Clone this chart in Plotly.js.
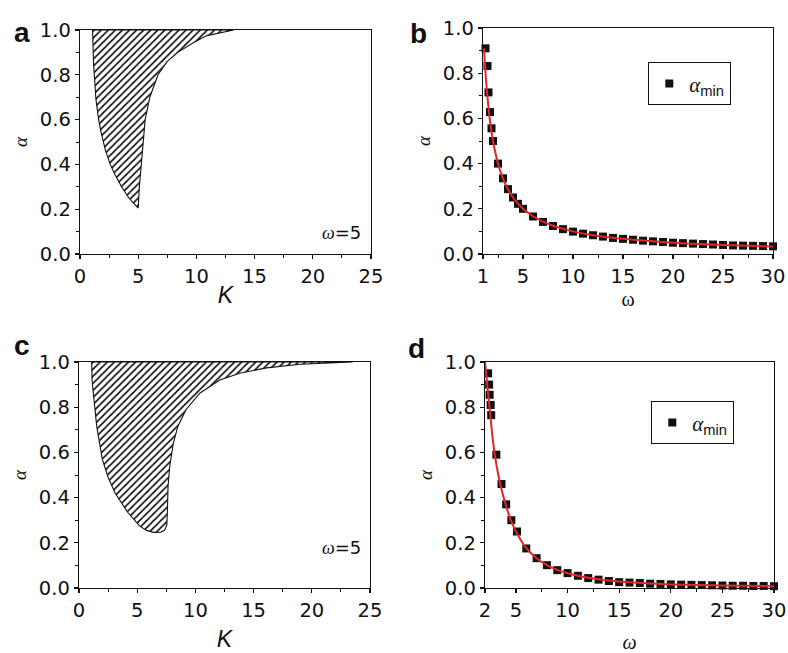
<!DOCTYPE html>
<html><head><meta charset="utf-8">
<script src="https://cdn.plot.ly/plotly-3.0.1.min.js"></script>
<style>html,body{margin:0;padding:0;background:#fff}#chart{width:788px;height:653px}</style>
</head><body><div id="chart"></div>
<script>
// ---------- DATA ----------
// Panel a: boundary of hatched region (K, alpha), omega = 5
const regionA_K     = [1.08, 1.10, 1.17, 1.23, 1.37, 1.60, 1.80, 2.20, 2.60, 3.00, 3.57, 4.20, 5.00, 5.10, 5.25, 5.40, 5.60, 6.00, 6.70, 7.50, 8.40, 9.80, 10.9, 12.9, 13.2, 1.08];
const regionA_alpha = [1.00, 0.92, 0.84, 0.80, 0.69, 0.60, 0.545, 0.46, 0.40, 0.355, 0.30, 0.25, 0.205, 0.30, 0.40, 0.50, 0.60, 0.70, 0.80, 0.86, 0.90, 0.945, 0.975, 0.997, 1.00, 1.00];

// Panel c: boundary of hatched region (K, alpha), omega = 5
const regionC_K     = [1.09, 1.12, 1.23, 1.52, 2.00, 2.50, 3.10, 4.20, 5.20, 5.80, 6.40, 7.00, 7.35, 7.55, 7.60, 7.65, 7.80, 8.10, 8.50, 9.20, 10.4, 12.1, 13.8, 16.1, 19.0, 22.1, 23.5, 1.09];
const regionC_alpha = [1.00, 0.92, 0.863, 0.716, 0.57, 0.49, 0.42, 0.334, 0.275, 0.255, 0.246, 0.247, 0.255, 0.28, 0.35, 0.45, 0.54, 0.64, 0.716, 0.79, 0.863, 0.92, 0.95, 0.974, 0.99, 0.998, 1.00, 1.00];

// Panel b: alpha_min points and fitted curve vs omega
const omegaB  = [1.25, 1.45, 1.55, 1.7, 1.85, 2.0, 2.5, 3.0, 3.5, 4.0, 4.5, 5, 6, 7, 8, 9, 10, 11, 12, 13, 14, 15, 16, 17, 18, 19, 20, 21, 22, 23, 24, 25, 26, 27, 28, 29, 30];
const alphaB  = [0.91, 0.832, 0.715, 0.628, 0.556, 0.50, 0.40, 0.335, 0.287, 0.25, 0.222, 0.20, 0.166, 0.142, 0.124, 0.110, 0.099, 0.090, 0.083, 0.077, 0.071, 0.067, 0.063, 0.059, 0.056, 0.053, 0.050, 0.048, 0.046, 0.044, 0.042, 0.040, 0.038, 0.037, 0.036, 0.035, 0.034];
const fitOmegaB = [1.10, 1.17, 1.30, 1.50, 1.75, 2.0, 2.5, 3.0, 3.5, 4.0, 5.0, 6.0, 7.0, 8.0, 10, 12, 15, 20, 25, 30];
const fitAlphaB = [0.91, 0.86, 0.77, 0.67, 0.57, 0.50, 0.40, 0.333, 0.286, 0.25, 0.20, 0.167, 0.143, 0.125, 0.10, 0.083, 0.067, 0.050, 0.040, 0.033];

// Panel d: alpha_min points and fitted curve vs omega
const omegaD  = [2.3, 2.4, 2.45, 2.55, 2.6, 3.1, 3.6, 4.05, 4.55, 5.1, 6, 7, 8, 9, 10, 11, 12, 13, 14, 15, 16, 17, 18, 19, 20, 21, 22, 23, 24, 25, 26, 27, 28, 29, 30];
const alphaD  = [0.95, 0.90, 0.855, 0.81, 0.765, 0.59, 0.46, 0.37, 0.30, 0.25, 0.175, 0.132, 0.101, 0.079, 0.066, 0.054, 0.044, 0.037, 0.031, 0.026, 0.024, 0.022, 0.019, 0.018, 0.016, 0.015, 0.014, 0.013, 0.012, 0.011, 0.010, 0.010, 0.009, 0.009, 0.008];
const fitOmegaD = [2.0, 2.2, 2.5, 2.75, 3.0, 3.25, 3.5, 4.0, 4.5, 5.0, 6, 7, 8, 9, 10, 12, 14, 16, 18, 20, 25, 30];
const fitAlphaD = [1.0, 0.91, 0.77, 0.66, 0.575, 0.51, 0.455, 0.37, 0.30, 0.25, 0.176, 0.132, 0.101, 0.080, 0.065, 0.045, 0.033, 0.025, 0.020, 0.016, 0.011, 0.008];

// Tick labels
const yTicks = [0, 0.2, 0.4, 0.6, 0.8, 1.0];
const yTickText = ['0.0', '0.2', '0.4', '0.6', '0.8', '1.0'];
const yMinor = [0.1, 0.3, 0.5, 0.7, 0.9];
const kTicks = [0, 5, 10, 15, 20, 25];
const kMinor = [2.5, 7.5, 12.5, 17.5, 22.5];
const wTicksB = [1, 5, 10, 15, 20, 25, 30];
const wTicksD = [2, 5, 10, 15, 20, 25, 30];
const wMinor = [2.5, 7.5, 12.5, 17.5, 22.5, 27.5];

// ---------- LAYOUT HELPERS ----------
const W = 788, H = 653;
const px = x => x / W;
const py = y => 1 - y / H;
const SANS = 'DejaVu Sans, Arial, sans-serif';
const HELV = 'Liberation Sans, Arial, Helvetica, sans-serif';
const SERIF = 'Liberation Serif, Times New Roman, serif';
const INK = '#111';

function axis(extra) {
  return Object.assign({
    showline: true, mirror: true, linecolor: INK, linewidth: 1.3,
    ticks: 'outside', ticklen: 4, tickwidth: 1.2, tickcolor: INK,
    showgrid: false, zeroline: false, fixedrange: true,
    tickfont: {family: SANS, size: 19.5, color: INK}
  }, extra);
}
function yAxis(domain, anchor) {
  return axis({
    domain: domain, anchor: anchor, range: [0, 1],
    tickmode: 'array', tickvals: yTicks, ticktext: yTickText,
    minor: {tickmode: 'array', tickvals: yMinor, ticks: 'outside', ticklen: 3, tickwidth: 1, tickcolor: INK},
    title: {text: 'α', font: {family: SERIF, size: 19, color: INK, style: 'italic'}, standoff: 7}
  });
}

const hatch = {shape: '/', fgcolor: '#000', bgcolor: 'white', size: 5, solidity: 0.3};
const letterFont = {family: HELV, size: 28, color: INK, weight: 'bold'};
const noteFont = {family: SANS, size: 18, color: INK};
const legendName = '<span style="font-family:Liberation Serif"><i>α</i></span><sub>min</sub>';
const noteText = '<span style="font-family:Liberation Serif"><i>ω</i></span>=5';

const traces = [
  {x: regionA_K, y: regionA_alpha, xaxis: 'x', yaxis: 'y', type: 'scatter', mode: 'lines',
   fill: 'toself', fillpattern: hatch, fillcolor: 'white', line: {color: INK, width: 1.1}, showlegend: false, hoverinfo: 'skip'},
  {x: omegaB, y: alphaB, xaxis: 'x2', yaxis: 'y2', type: 'scatter', mode: 'markers',
   marker: {symbol: 'square', size: 8, color: INK}, name: legendName,
   legend: 'legend', cliponaxis: false},
  {x: fitOmegaB, y: fitAlphaB, xaxis: 'x2', yaxis: 'y2', type: 'scatter', mode: 'lines',
   line: {color: '#e3262b', width: 2, shape: 'spline', smoothing: 0.8}, showlegend: false},
  {x: regionC_K, y: regionC_alpha, xaxis: 'x3', yaxis: 'y3', type: 'scatter', mode: 'lines',
   fill: 'toself', fillpattern: hatch, fillcolor: 'white', line: {color: INK, width: 1.1}, showlegend: false, hoverinfo: 'skip'},
  {x: omegaD, y: alphaD, xaxis: 'x4', yaxis: 'y4', type: 'scatter', mode: 'markers',
   marker: {symbol: 'square', size: 8, color: INK}, name: legendName,
   legend: 'legend2', cliponaxis: false},
  {x: fitOmegaD, y: fitAlphaD, xaxis: 'x4', yaxis: 'y4', type: 'scatter', mode: 'lines',
   line: {color: '#e3262b', width: 2, shape: 'spline', smoothing: 0.8}, showlegend: false}
];

const legendStyle = {
  xanchor: 'left', yanchor: 'top', bordercolor: INK, borderwidth: 1.3, bgcolor: 'white',
  font: {family: HELV, size: 21, color: INK}, itemwidth: 30
};

const layout = {
  width: W, height: H, margin: {l: 0, r: 0, t: 0, b: 0},
  paper_bgcolor: 'white', plot_bgcolor: 'white',
  showlegend: true,
  legend: Object.assign({x: px(648), y: py(62)}, legendStyle),
  legend2: Object.assign({x: px(651), y: py(401)}, legendStyle),
  xaxis: axis({domain: [px(80), px(371)], anchor: 'y', range: [0, 25], tickmode: 'array', tickvals: kTicks,
    minor: {tickmode: 'array', tickvals: kMinor, ticks: 'outside', ticklen: 3, tickwidth: 1, tickcolor: INK},
    title: {text: 'K', font: {family: HELV, size: 23, color: INK, style: 'italic'}, standoff: 0}}),
  yaxis: yAxis([py(254), py(30)], 'x'),
  xaxis2: axis({domain: [px(483), px(773)], anchor: 'y2', range: [1, 30], tickmode: 'array', tickvals: wTicksB,
    minor: {tickmode: 'array', tickvals: wMinor, ticks: 'outside', ticklen: 3, tickwidth: 1, tickcolor: INK},
    title: {text: 'ω', font: {family: SERIF, size: 20, color: INK}, standoff: 0}}),
  yaxis2: yAxis([py(254), py(28)], 'x2'),
  xaxis3: axis({domain: [px(79), px(370)], anchor: 'y3', range: [0, 25], tickmode: 'array', tickvals: kTicks,
    minor: {tickmode: 'array', tickvals: kMinor, ticks: 'outside', ticklen: 3, tickwidth: 1, tickcolor: INK},
    title: {text: 'K', font: {family: HELV, size: 23, color: INK, style: 'italic'}, standoff: 10}}),
  yaxis3: yAxis([py(588), py(362)], 'x3'),
  xaxis4: axis({domain: [px(485), px(774)], anchor: 'y4', range: [2, 30], tickmode: 'array', tickvals: wTicksD,
    minor: {tickmode: 'array', tickvals: wMinor.slice(1), ticks: 'outside', ticklen: 3, tickwidth: 1, tickcolor: INK},
    title: {text: 'ω', font: {family: SERIF, size: 20, color: INK, style: 'italic'}, standoff: 18}}),
  yaxis4: yAxis([py(588), py(362)], 'x4'),
  annotations: [
    {text: 'a', x: px(12), y: py(15), xref: 'paper', yref: 'paper', showarrow: false, font: letterFont},
    {text: 'b', x: px(418), y: py(16), xref: 'paper', yref: 'paper', showarrow: false, font: letterFont},
    {text: 'c', x: px(12), y: py(345), xref: 'paper', yref: 'paper', showarrow: false, font: letterFont},
    {text: 'd', x: px(416), y: py(348), xref: 'paper', yref: 'paper', showarrow: false, font: letterFont},
    {text: noteText, x: px(341), y: py(232), xref: 'paper', yref: 'paper', showarrow: false, font: noteFont},
    {text: noteText, x: px(341), y: py(560), xref: 'paper', yref: 'paper', showarrow: false, font: noteFont}
  ]
};

Plotly.newPlot('chart', traces, layout, {staticPlot: true, displayModeBar: false});
</script></body></html>
